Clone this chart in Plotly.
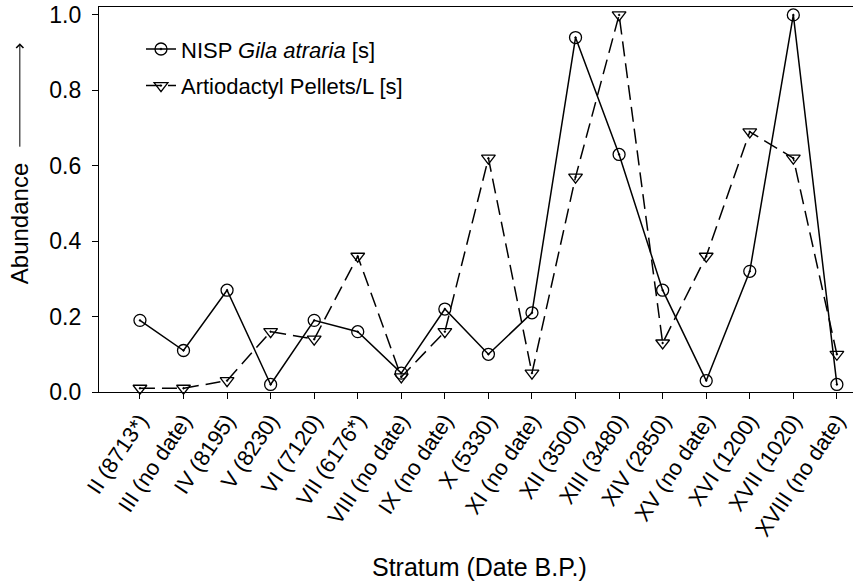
import plotly.graph_objects as go

strata = ["II (8713*)", "III (no date)", "IV (8195)", "V (8230)", "VI (7120)",
          "VII (6176*)", "VIII (no date)", "IX (no date)", "X (5330)", "XI (no date)",
          "XII (3500)", "XIII (3480)", "XIV (2850)", "XV (no date)", "XVI (1200)",
          "XVII (1020)", "XVIII (no date)"]
nisp_gila = [0.19, 0.11, 0.27, 0.02, 0.19, 0.16, 0.05, 0.22, 0.10, 0.21,
             0.94, 0.63, 0.27, 0.03, 0.32, 1.00, 0.02]
artio_pellets = [0.01, 0.01, 0.03, 0.16, 0.14, 0.36, 0.04, 0.16, 0.62, 0.05,
                 0.57, 1.00, 0.13, 0.36, 0.69, 0.62, 0.10]
y_ticks = [0.0, 0.2, 0.4, 0.6, 0.8, 1.0]

FONT = "Liberation Sans, Arial, sans-serif"
xs = list(range(len(strata)))

fig = go.Figure()
fig.add_trace(go.Scatter(
    x=xs, y=nisp_gila, mode="lines+markers",
    name="NISP <i>Gila atraria</i> [s]", legendgroup="a",
    line=dict(color="black", width=1.5),
    marker=dict(symbol="circle-open-dot", size=12, color="black",
                line=dict(color="black", width=1.3)),
    cliponaxis=False,
))
fig.add_trace(go.Scatter(
    x=xs, y=artio_pellets, mode="lines+markers",
    name="Artiodactyl Pellets/L [s]", legendgroup="b",
    line=dict(color="black", width=1.5, dash="15px,7px"),
    marker=dict(symbol="triangle-down-open-dot", size=12, color="black",
                line=dict(color="black", width=1.3)),
    cliponaxis=False,
))

fig.update_layout(
    width=853, height=584,
    margin=dict(l=99, r=0, t=7, b=192),
    paper_bgcolor="white", plot_bgcolor="white",
    font=dict(family=FONT, color="black", size=22),
    showlegend=True,
    legend=dict(x=0.0557, y=0.945, xanchor="left", yanchor="top",
                bgcolor="rgba(0,0,0,0)", borderwidth=0,
                font=dict(size=22), tracegroupgap=5, traceorder="grouped"),
    xaxis=dict(
        range=[-0.94, 16.37], automargin=False,
        tickmode="array", tickvals=xs, ticktext=strata,
        tickangle=-56, tickfont=dict(size=22),
        showline=True, linecolor="black", linewidth=1.2, mirror=True,
        ticks="outside", ticklen=6, tickcolor="black", tickwidth=1.2,
        showgrid=False, zeroline=False,
    ),
    yaxis=dict(
        range=[0, 1.021], automargin=False,
        tickmode="array", tickvals=y_ticks,
        ticktext=[f"{v:.1f}" for v in y_ticks], tickfont=dict(size=23),
        showline=True, linecolor="black", linewidth=1.2, mirror=False,
        ticks="outside", ticklen=6, tickcolor="black", tickwidth=1.2,
        showgrid=False, zeroline=False, ticklabelstandoff=6,
    ),
    annotations=[
        dict(text="Abundance", xref="paper", yref="paper",
             x=-0.106, y=0.436, textangle=-90, showarrow=False,
             font=dict(size=24), xanchor="center", yanchor="middle"),
        dict(text="Stratum (Date B.P.)", xref="paper", yref="paper",
             x=0.504, y=-0.4545, showarrow=False,
             font=dict(size=25), xanchor="center", yanchor="middle"),
        dict(text="", xref="paper", yref="paper", x=-0.105, y=0.906,
             showarrow=True, ax=0, ay=105, axref="pixel", ayref="pixel",
             arrowhead=4, arrowsize=1.4, arrowwidth=1, arrowcolor="black"),
    ],
)

fig.write_html(
    "out.html",
    config={"displayModeBar": False},
    post_script="document.body.style.margin='0';document.body.style.padding='0';",
)
